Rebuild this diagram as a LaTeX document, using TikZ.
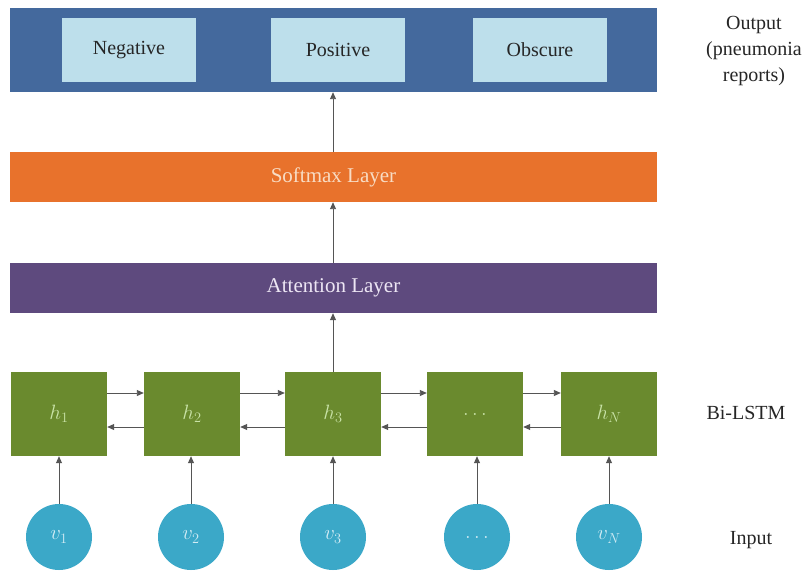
\documentclass[tikz,border=0pt]{standalone}
\usepackage{fontspec}
\setmainfont{Liberation Serif}
\usetikzlibrary{arrows.meta}
\definecolor{outblue}{HTML}{44699D}
\definecolor{lightblue}{HTML}{BDDFEB}
\definecolor{softorange}{HTML}{E8722C}
\definecolor{softtext}{HTML}{F8DCC4}
\definecolor{attpurple}{HTML}{5E4A7E}
\definecolor{atttext}{HTML}{EDE6F4}
\definecolor{lstmgreen}{HTML}{6A8A2E}
\definecolor{lstmtext}{HTML}{C9E3A8}
\definecolor{incyan}{HTML}{3BA8C8}
\definecolor{intext}{HTML}{D3ECF4}
\definecolor{arrowgray}{HTML}{555555}
\begin{document}
\begin{tikzpicture}[x=1pt,y=-1pt,
  bar/.style={draw=none,minimum width=647pt,inner sep=0pt,font=\fontsize{21}{23}\selectfont},
  cls/.style={fill=lightblue,minimum width=134pt,minimum height=64pt,inner sep=0pt,font=\fontsize{20}{22}\selectfont,text=black!85},
  hbox/.style={fill=lstmgreen,minimum width=96pt,minimum height=84pt,inner sep=0pt,text=lstmtext,font=\fontsize{20}{22}\selectfont},
  vcirc/.style={circle,fill=incyan,minimum size=66pt,inner sep=0pt,text=intext,font=\fontsize{20}{22}\selectfont},
  lbl/.style={align=center,font=\fontsize{20}{26}\selectfont,text=black!85},
  conn/.style={draw=arrowgray,line width=0.9pt,-{Triangle[length=7pt,width=6pt]}}
]
\useasboundingbox (0,0) rectangle (803,572);
\fill[white] (0,0) rectangle (803,572);
% Output
\node[bar,fill=outblue,minimum height=84pt] (out) at (333.5,50) {};
\node[cls] (neg) at (129,50) {Negative};
\node[cls] (pos) at (338,50) {Positive};
\node[cls] (obs) at (540,50) {Obscure};
\node[lbl] (outl) at (754,51) {Output\\(pneumonia\\reports)};
% Softmax
\node[bar,fill=softorange,minimum height=50pt,text=softtext] (soft) at (333.5,177) {Softmax Layer};
% Attention
\node[bar,fill=attpurple,minimum height=50pt,text=atttext] (att) at (333.5,288) {Attention Layer};
% Bi-LSTM
\node[hbox] (h1) at (59,414) {$h_1$};
\node[hbox] (h2) at (192,414) {$h_2$};
\node[hbox] (h3) at (333,414) {$h_3$};
\node[hbox] (h4) at (475,414) {$\ldots$};
\node[hbox] (hN) at (609,414) {$h_N$};
\node[lbl] (bil) at (746,413) {Bi-LSTM};
% Inputs
\node[vcirc] (v1) at (59,537) {$v_1$};
\node[vcirc] (v2) at (191,537) {$v_2$};
\node[vcirc] (v3) at (333,537) {$v_3$};
\node[vcirc] (v4) at (477,537) {$\ldots$};
\node[vcirc] (vN) at (609,537) {$v_N$};
\node[lbl] (inl) at (751,540) {Input};
% vertical arrows
\draw[conn] (soft.north -| 333,0) -- (out.south -| 333,0);
\draw[conn] (att.north -| 333,0) -- (soft.south -| 333,0);
\draw[conn] (h3.north) -- (att.south -| h3.north);
\foreach \i/\j in {v1/h1,v2/h2,v3/h3,v4/h4,vN/hN}{
  \draw[conn] (\i.north) -- (\i.north |- \j.south);
}
% horizontal arrows
\foreach \a/\b in {h1/h2,h2/h3,h3/h4,h4/hN}{
  \draw[conn] ([yshift=21pt]\a.east) -- ([yshift=21pt]\b.west);
  \draw[conn] ([yshift=-13pt]\b.west) -- ([yshift=-13pt]\a.east);
}
\end{tikzpicture}
\end{document}
